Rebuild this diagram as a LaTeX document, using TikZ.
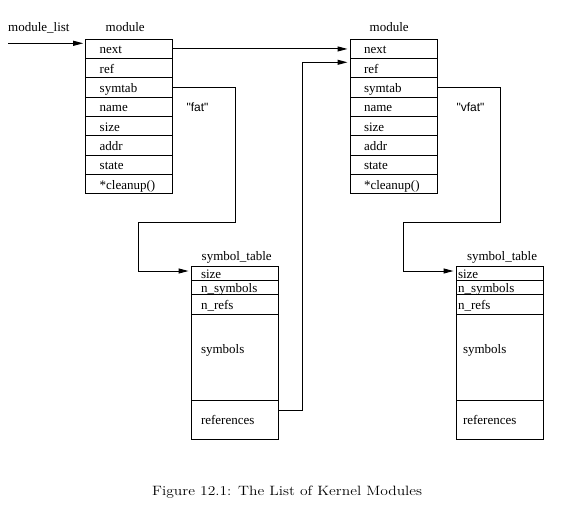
\documentclass[tikz,border=0pt]{standalone}
\usepackage{fontspec}
\setmainfont{Liberation Serif}
\newfontfamily\strfont{Liberation Sans}
\newfontfamily\capfont{Latin Modern Roman}[FakeStretch=1.15]
\usetikzlibrary{positioning,arrows.meta}

\tikzset{
  field/.style={draw, line width=1pt, outer sep=0pt, inner ysep=0pt,
    minimum width=87pt, minimum height=19.3pt, text width=59pt, inner xsep=14pt,
    align=left, text height=10pt, text depth=0pt, font=\fontsize{13}{15}\selectfont},
  symfield/.style={field, minimum width=87.5pt, text width=67.5pt, inner xsep=10pt},
  title/.style={anchor=base west, inner sep=0pt, font=\fontsize{13}{15}\selectfont},
  str/.style={anchor=base west, inner sep=0pt, font=\strfont\fontsize{12}{14}\selectfont},
  ptr/.style={-{Triangle[length=10pt,width=5pt]}, line width=1pt, shorten >=2.5pt},
}

\begin{document}
\begin{tikzpicture}[x=1pt,y=-1pt]
  \useasboundingbox (0,0) rectangle (584,517);

  % first module
  \node [title] (listname) at (8,31.7) {module\_list};
  \node [title] (modname1) at (105.5,31.7) {module};
  \node [field, anchor=north west] (next1) at (85.7,39.3) {next};
  \node [field, below=0pt of next1] (ref1) {ref};
  \node [field, below=0pt of ref1] (symtab1) {symtab};
  \node [field, below=0pt of symtab1] (name1) {name};
  \node [field, below=0pt of name1] (msize1) {size};
  \node [field, below=0pt of msize1] (addr1) {addr};
  \node [field, below=0pt of addr1] (state1) {state};
  \node [field, below=0pt of state1] (cleanup1) {*cleanup()};
  \node [str] (fat) at (186.3,111.5) {"fat"};

  % second module
  \node [title] (modname2) at (369.5,31.7) {module};
  \node [field, anchor=north west] (next2) at (350,39.3) {next};
  \node [field, below=0pt of next2] (ref2) {ref};
  \node [field, below=0pt of ref2] (symtab2) {symtab};
  \node [field, below=0pt of symtab2] (name2) {name};
  \node [field, below=0pt of name2] (msize2) {size};
  \node [field, below=0pt of msize2] (addr2) {addr};
  \node [field, below=0pt of addr2] (state2) {state};
  \node [field, below=0pt of state2] (cleanup2) {*cleanup()};
  \node [str] (vfat) at (456.3,111.5) {"vfat"};

  % symbol tables
  \node [title] (tabname1) at (201.5,260.7) {symbol\_table};
  \node [symfield, anchor=north west, minimum height=14pt] (size1) at (191,266) {size};
  \node [symfield, below=0pt of size1, minimum height=14.3pt] (nsyms1) {n\_symbols};
  \node [symfield, below=0pt of nsyms1, minimum height=20pt] (nrefs1) {n\_refs};
  \node [symfield, below=0pt of nrefs1, minimum height=85.7pt, text depth=18pt] (syms1) {symbols};
  \node [symfield, below=0pt of syms1, minimum height=39pt] (refs1) {references};

  \node [title] (tabname2) at (466.8,260.7) {symbol\_table};
  \node [symfield, anchor=north west, minimum height=14pt, text width=83.5pt, inner xsep=2pt] (size2) at (456,266) {size};
  \node [symfield, below=0pt of size2, minimum height=14.3pt, text width=83.5pt, inner xsep=2pt] (nsyms2) {n\_symbols};
  \node [symfield, below=0pt of nsyms2, minimum height=20pt, text width=83.5pt, inner xsep=2pt] (nrefs2) {n\_refs};
  \node [symfield, below=0pt of nrefs2, minimum height=85.7pt, text width=73.5pt, inner xsep=7pt, text depth=18pt] (syms2) {symbols};
  \node [symfield, below=0pt of syms2, minimum height=39pt, text width=73.5pt, inner xsep=7pt] (refs2) {references};

  % bends
  \coordinate (liststart) at (8,43.3);
  \coordinate (downa1) at (235.3,222.3);
  \coordinate (downb1) at (138.3,222.3);
  \coordinate (downa2) at (500.3,222.3);
  \coordinate (downb2) at (403.3,222.3);
  \coordinate (refbend) at (302.3,62.3);

  % pointers
  \draw [ptr] (liststart) -- (liststart -| next1.west);
  \draw [ptr] (next1.east) -- (next2.west);
  \draw [ptr] (symtab1.east) -| (downa1) -- (downb1) |- ([yshift=2pt]size1.west);
  \draw [ptr] (symtab2.east) -| (downa2) -- (downb2) |- ([yshift=2pt]size2.west);
  \draw [ptr] ([yshift=9.5pt]refs1.east) -| (refbend) -- (refbend -| ref2.west);

  \node [anchor=base, inner sep=0pt, font=\capfont\fontsize{13.5}{16}\selectfont] (caption) at (287.2,495) {Figure 12.1: The List of Kernel Modules};
\end{tikzpicture}
\end{document}
